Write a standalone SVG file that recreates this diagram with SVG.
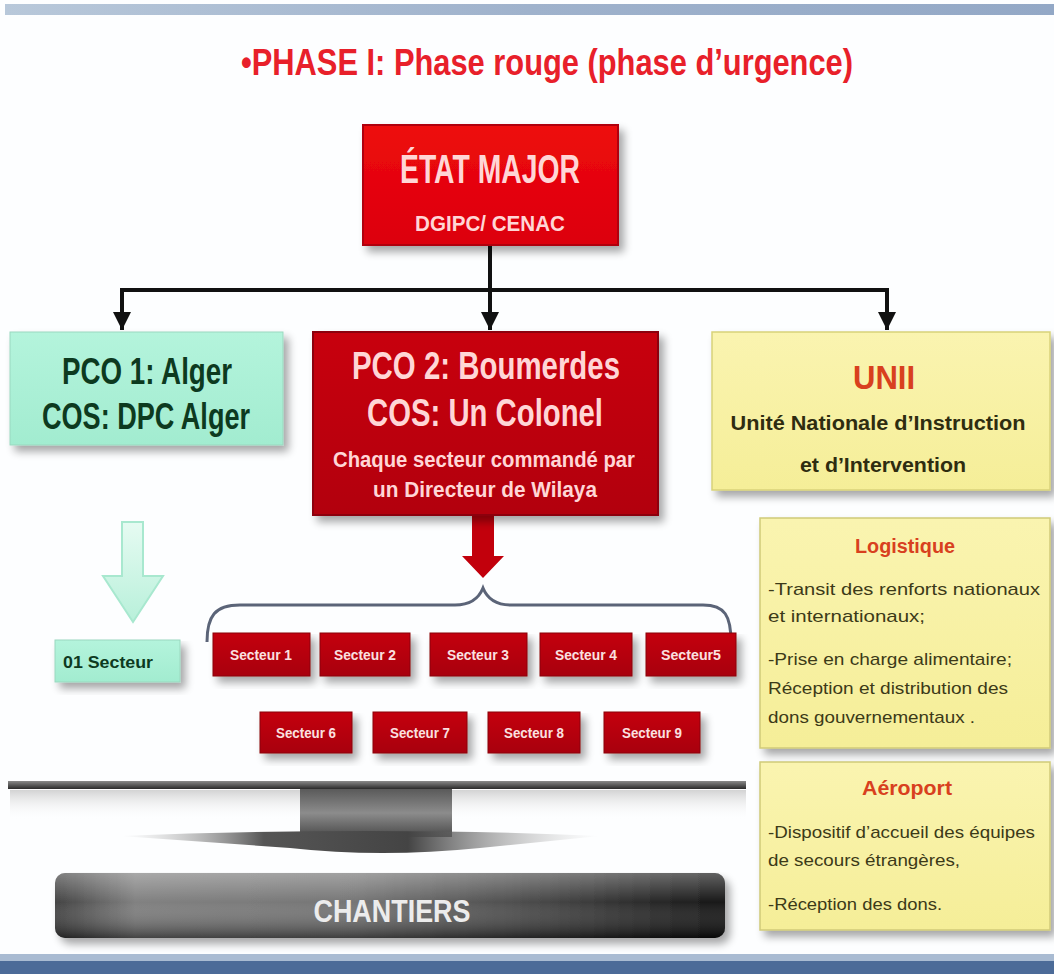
<svg xmlns="http://www.w3.org/2000/svg" width="1054" height="974" viewBox="0 0 1054 974">
<style>
  text { font-family: "Liberation Sans Narrow", "Liberation Sans", Arial, sans-serif; font-weight: bold; }
  .red-t { fill: #ffd6d6; text-anchor: middle; }
  .grn-t { fill: #0d3a1f; text-anchor: middle; }
  .ttl-o { fill: #d8401e; text-anchor: middle; }
  .yel-t { fill: #3c3a18; font-weight: normal; }
  .sec-t { fill: #fbe0e0; text-anchor: middle; font-size: 14px; }
  .conn { stroke: #111; stroke-width: 4; fill: none; }
  .sec { fill: url(#gSec); stroke: #8a0008; stroke-width: 1; filter: url(#sh); }
</style>
<defs>
  <filter id="sh" x="-10%" y="-10%" width="130%" height="140%">
    <feGaussianBlur in="SourceAlpha" stdDeviation="4"/>
    <feOffset dx="5" dy="6" result="b"/>
    <feComponentTransfer><feFuncA type="linear" slope="0.35"/></feComponentTransfer>
    <feMerge><feMergeNode/><feMergeNode in="SourceGraphic"/></feMerge>
  </filter>
  <linearGradient id="gRed" x1="0" y1="0" x2="0" y2="1">
    <stop offset="0" stop-color="#ee0a0a"/><stop offset="1" stop-color="#dc0008"/>
  </linearGradient>
  <linearGradient id="gDRed" x1="0" y1="0" x2="0" y2="1">
    <stop offset="0" stop-color="#c8000c"/><stop offset="1" stop-color="#b2000a"/>
  </linearGradient>
  <linearGradient id="gSec" x1="0" y1="0" x2="0" y2="1">
    <stop offset="0" stop-color="#c4000e"/><stop offset="1" stop-color="#a8000a"/>
  </linearGradient>
  <linearGradient id="gGrn" x1="0" y1="0" x2="0" y2="1">
    <stop offset="0" stop-color="#b4f4dc"/><stop offset="1" stop-color="#a2ecd0"/>
  </linearGradient>
  <linearGradient id="gYel" x1="0" y1="0" x2="0" y2="1">
    <stop offset="0" stop-color="#faf4b0"/><stop offset="1" stop-color="#f5ee98"/>
  </linearGradient>
  <linearGradient id="gGArrow" x1="0" y1="0" x2="0" y2="1">
    <stop offset="0" stop-color="#e6fbf2"/><stop offset="1" stop-color="#b8f0da"/>
  </linearGradient>
  <linearGradient id="gTop" x1="0" y1="0" x2="1" y2="0">
    <stop offset="0" stop-color="#b8c8da"/><stop offset="0.5" stop-color="#9fb2cc"/><stop offset="1" stop-color="#93a8c6"/>
  </linearGradient>
  <linearGradient id="gBar" x1="0" y1="0" x2="0" y2="1">
    <stop offset="0" stop-color="#8a8a8a"/><stop offset="1" stop-color="#2a2a2a"/>
  </linearGradient>
  <linearGradient id="gPed" x1="0" y1="0" x2="0" y2="1">
    <stop offset="0" stop-color="#5a5a5a"/><stop offset="0.5" stop-color="#8c8c8c"/><stop offset="1" stop-color="#4a4a4a"/>
  </linearGradient>
  <linearGradient id="gBase" x1="0" y1="0" x2="1" y2="0">
    <stop offset="0" stop-color="#bbbbbb" stop-opacity="0"/><stop offset="0.3" stop-color="#555"/><stop offset="0.6" stop-color="#444"/><stop offset="1" stop-color="#bbbbbb" stop-opacity="0"/>
  </linearGradient>
  <linearGradient id="gShade" x1="0" y1="0" x2="0" y2="1">
    <stop offset="0" stop-color="#c8c8c8" stop-opacity="0.8"/><stop offset="1" stop-color="#ffffff" stop-opacity="0"/>
  </linearGradient>
  <linearGradient id="gCh" x1="0" y1="0" x2="1" y2="0">
    <stop offset="0" stop-color="#3a3a3a"/><stop offset="0.12" stop-color="#7a7a7a"/><stop offset="0.45" stop-color="#6e6e6e"/><stop offset="0.75" stop-color="#3a3a3a"/><stop offset="1" stop-color="#0a0a0a"/>
  </linearGradient>
  <linearGradient id="gChV" x1="0" y1="0" x2="0" y2="1">
    <stop offset="0" stop-color="#fff" stop-opacity="0.35"/><stop offset="0.45" stop-color="#fff" stop-opacity="0.05"/><stop offset="1" stop-color="#000" stop-opacity="0.45"/>
  </linearGradient>
  <marker id="ahd" viewBox="0 0 10 10" refX="10" refY="5" markerWidth="18" markerHeight="18" orient="auto" markerUnits="userSpaceOnUse">
    <path d="M0,0 L10,5 L0,10 Z" fill="#111"/>
  </marker>
</defs>

<!-- background and frame -->
<rect x="0" y="0" width="1054" height="974" fill="#fdfeff"/>
<rect x="5" y="4" width="1049" height="11" fill="url(#gTop)"/>
<rect x="0" y="954" width="1054" height="7" fill="#a9bbd2"/>
<rect x="0" y="961" width="1054" height="13" fill="#4c6b98"/>

<!-- title -->
<text x="547" y="75" font-size="36" fill="#e8202a" text-anchor="middle" textLength="612" lengthAdjust="spacingAndGlyphs">•PHASE I:  Phase rouge (phase d’urgence)</text>

<!-- connectors -->
<g id="connectors">
  <path class="conn" d="M490,245 V330" marker-end="url(#ahd)"/>
  <path class="conn" d="M120,290 H889"/>
  <path class="conn" d="M122,288 V330" marker-end="url(#ahd)"/>
  <path class="conn" d="M887,288 V330" marker-end="url(#ahd)"/>
  <!-- red arrow from PCO 2 to sectors -->
  <path d="M472,515 H494 V556 H504 L483,578 L462,556 H472 Z" fill="#c2000c"/>
  <!-- green arrow from PCO 1 to 01 Secteur -->
  <path d="M122,522 H143 V576 H163 L133,622 L103,576 H122 Z" fill="url(#gGArrow)" stroke="#a8e8cf" stroke-width="2"/>
  <!-- brace -->
  <path d="M207,642 C207,616 215,605 240,605 L455,605 C470,605 479,598 483,588 C487,598 496,605 511,605 L703,605 C725,605 731,616 731,642" fill="none" stroke="#5b6478" stroke-width="3"/>
</g>

<!-- ÉTAT MAJOR -->
<g id="etat-major">
  <rect x="363" y="125" width="255" height="120" fill="url(#gRed)" stroke="#b00008" stroke-width="2" filter="url(#sh)"/>
  <text class="red-t" x="490" y="183" font-size="40" textLength="180" lengthAdjust="spacingAndGlyphs">ÉTAT MAJOR</text>
  <text class="red-t" x="490" y="231" font-size="22" textLength="150" lengthAdjust="spacingAndGlyphs">DGIPC/ CENAC</text>
</g>

<!-- PCO 1 -->
<g id="pco1">
  <rect x="10" y="332" width="273" height="113" fill="url(#gGrn)" stroke="#9ad8bf" stroke-width="1" filter="url(#sh)"/>
  <text class="grn-t" x="147" y="384" font-size="36" textLength="170" lengthAdjust="spacingAndGlyphs">PCO 1: Alger</text>
  <text class="grn-t" x="146" y="429" font-size="36" textLength="208" lengthAdjust="spacingAndGlyphs">COS: DPC Alger</text>
</g>

<!-- PCO 2 -->
<g id="pco2">
  <rect x="313" y="332" width="345" height="183" fill="url(#gDRed)" stroke="#8c0008" stroke-width="2" filter="url(#sh)"/>
  <text class="red-t" x="486" y="379" font-size="38" textLength="268" lengthAdjust="spacingAndGlyphs">PCO 2: Boumerdes</text>
  <text class="red-t" x="485" y="426" font-size="38" textLength="236" lengthAdjust="spacingAndGlyphs">COS:  Un Colonel</text>
  <text class="red-t" x="484" y="467" font-size="22" textLength="302" lengthAdjust="spacingAndGlyphs">Chaque secteur commandé par</text>
  <text class="red-t" x="485" y="497" font-size="22" textLength="224" lengthAdjust="spacingAndGlyphs">un Directeur de Wilaya</text>
</g>

<!-- UNII -->
<g id="unii">
  <rect x="712" y="332" width="338" height="158" fill="url(#gYel)" stroke="#d8d27a" stroke-width="1.5" filter="url(#sh)"/>
  <text class="ttl-o" x="884" y="389" font-size="34" textLength="62" lengthAdjust="spacingAndGlyphs">UNII</text>
  <text x="878" y="430" font-size="20" fill="#2e2c10" text-anchor="middle" textLength="295" lengthAdjust="spacingAndGlyphs">Unité Nationale d’Instruction</text>
  <text x="883" y="472" font-size="20" fill="#2e2c10" text-anchor="middle" textLength="166" lengthAdjust="spacingAndGlyphs">et d’Intervention</text>
</g>

<!-- Logistique -->
<g id="logistique">
  <rect x="760" y="518" width="290" height="230" fill="url(#gYel)" stroke="#d0ca78" stroke-width="1.5" filter="url(#sh)"/>
  <text class="ttl-o" x="905" y="553" font-size="20" textLength="100" lengthAdjust="spacingAndGlyphs">Logistique</text>
  <text class="yel-t" x="768" y="595" font-size="17" textLength="272" lengthAdjust="spacingAndGlyphs">-Transit  des renforts nationaux</text>
  <text class="yel-t" x="768" y="622" font-size="17" textLength="157" lengthAdjust="spacingAndGlyphs">et internationaux;</text>
  <text class="yel-t" x="768" y="665" font-size="17" textLength="244" lengthAdjust="spacingAndGlyphs">-Prise en charge alimentaire;</text>
  <text class="yel-t" x="768" y="694" font-size="17" textLength="240" lengthAdjust="spacingAndGlyphs">Réception et distribution des</text>
  <text class="yel-t" x="768" y="723" font-size="17" textLength="207" lengthAdjust="spacingAndGlyphs">dons gouvernementaux .</text>
</g>

<!-- Aéroport -->
<g id="aeroport">
  <rect x="760" y="762" width="290" height="168" fill="url(#gYel)" stroke="#d0ca78" stroke-width="1.5" filter="url(#sh)"/>
  <text class="ttl-o" x="907" y="795" font-size="20" textLength="90" lengthAdjust="spacingAndGlyphs">Aéroport</text>
  <text class="yel-t" x="768" y="838" font-size="17" textLength="267" lengthAdjust="spacingAndGlyphs">-Dispositif d’accueil des équipes</text>
  <text class="yel-t" x="768" y="866" font-size="17" textLength="192" lengthAdjust="spacingAndGlyphs">de secours étrangères,</text>
  <text class="yel-t" x="768" y="910" font-size="17" textLength="174" lengthAdjust="spacingAndGlyphs">-Réception des dons.</text>
</g>

<!-- 01 Secteur -->
<g id="secteur-01">
  <rect x="55" y="640" width="125" height="42" fill="url(#gGrn)" stroke="#9ad8bf" stroke-width="1" filter="url(#sh)"/>
  <text x="63" y="668" font-size="16" fill="#0d3a1f" textLength="90" lengthAdjust="spacingAndGlyphs">01 Secteur</text>
</g>

<!-- sectors -->
<g id="secteur-1"><rect class="sec" x="213" y="633" width="97" height="43"/><text class="sec-t" x="261" y="660" textLength="62" lengthAdjust="spacingAndGlyphs">Secteur 1</text></g>
<g id="secteur-2"><rect class="sec" x="320" y="633" width="90" height="43"/><text class="sec-t" x="365" y="660" textLength="62" lengthAdjust="spacingAndGlyphs">Secteur 2</text></g>
<g id="secteur-3"><rect class="sec" x="430" y="633" width="97" height="43"/><text class="sec-t" x="478" y="660" textLength="62" lengthAdjust="spacingAndGlyphs">Secteur 3</text></g>
<g id="secteur-4"><rect class="sec" x="540" y="633" width="92" height="43"/><text class="sec-t" x="586" y="660" textLength="62" lengthAdjust="spacingAndGlyphs">Secteur 4</text></g>
<g id="secteur-5"><rect class="sec" x="646" y="633" width="90" height="43"/><text class="sec-t" x="691" y="660" textLength="60" lengthAdjust="spacingAndGlyphs">Secteur5</text></g>
<g id="secteur-6"><rect class="sec" x="260" y="712" width="92" height="41"/><text class="sec-t" x="306" y="738" textLength="60" lengthAdjust="spacingAndGlyphs">Secteur 6</text></g>
<g id="secteur-7"><rect class="sec" x="373" y="712" width="94" height="41"/><text class="sec-t" x="420" y="738" textLength="60" lengthAdjust="spacingAndGlyphs">Secteur 7</text></g>
<g id="secteur-8"><rect class="sec" x="488" y="712" width="92" height="41"/><text class="sec-t" x="534" y="738" textLength="60" lengthAdjust="spacingAndGlyphs">Secteur 8</text></g>
<g id="secteur-9"><rect class="sec" x="604" y="712" width="96" height="41"/><text class="sec-t" x="652" y="738" textLength="60" lengthAdjust="spacingAndGlyphs">Secteur 9</text></g>

<!-- platform / pedestal -->
<g id="platform">
  <rect x="10" y="790" width="290" height="30" fill="url(#gShade)"/>
  <rect x="452" y="790" width="294" height="30" fill="url(#gShade)"/>
  <rect x="8" y="781" width="738" height="8" fill="url(#gBar)"/>
  <rect x="300" y="789" width="152" height="48" fill="url(#gPed)"/>
  <path d="M120,836 Q380,826 600,836 L480,848 Q380,858 290,848 Z" fill="url(#gBase)"/>
</g>

<!-- CHANTIERS -->
<g id="chantiers">
  <rect x="55" y="873" width="670" height="65" rx="10" fill="url(#gCh)" filter="url(#sh)"/>
  <rect x="55" y="873" width="670" height="65" rx="10" fill="url(#gChV)"/>
  <text x="392" y="922" font-size="32" font-weight="normal" fill="#ececec" text-anchor="middle" textLength="157" lengthAdjust="spacingAndGlyphs">CHANTIERS</text>
</g>
</svg>
